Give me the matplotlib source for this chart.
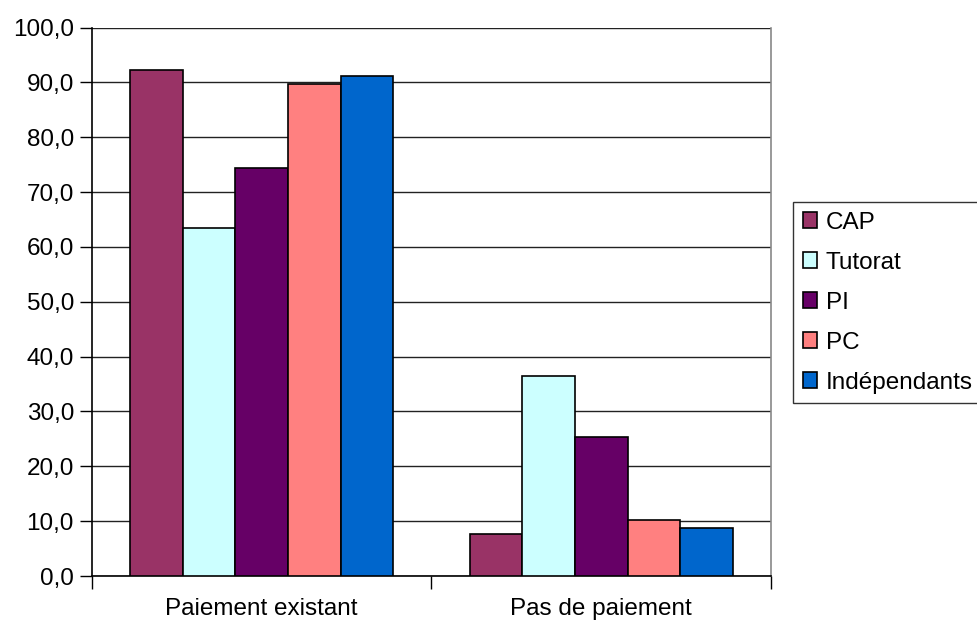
import matplotlib
matplotlib.use("Agg")
import matplotlib.pyplot as plt
import numpy as np

plt.rcParams['font.family'] = ['Liberation Sans', 'DejaVu Sans']

categories = ["Paiement existant", "Pas de paiement"]
series_names = ["CAP", "Tutorat", "PI", "PC", "Indépendants"]
cap = [92.2, 7.7]
tutorat = [63.4, 36.4]
pi = [74.4, 25.4]
pc = [89.7, 10.2]
independants = [91.1, 8.7]
series_values = [cap, tutorat, pi, pc, independants]
colors = ["#993366", "#CCFFFF", "#660066", "#FF8080", "#0066CC"]
y_ticks = list(range(0, 101, 10))

FS = 17.5

fig = plt.figure(figsize=(9.78, 6.24), dpi=100)
ax = fig.add_axes([92 / 978, 1 - 576 / 624, (771 - 92) / 978, (576 - 27.5) / 624])

x = np.arange(len(categories))
width = 0.155
n = len(series_names)
for i, (name, vals, col) in enumerate(zip(series_names, series_values, colors)):
    offs = (i - (n - 1) / 2) * width
    ax.bar(x + offs, vals, width, color=col, edgecolor="black", linewidth=1.2,
           label=name, zorder=3)

ax.set_xlim(-0.5, len(categories) - 0.5)
ax.set_ylim(0, 100)
ax.set_yticks(y_ticks)
ax.set_yticklabels([f"{v:.1f}".replace(".", ",") for v in y_ticks], fontsize=FS)
ax.yaxis.grid(True, color="#222222", linewidth=1.0, zorder=0)
ax.set_axisbelow(True)

# category boundary ticks on x axis, labels centred between them
ax.set_xticks([-0.5, 0.5, 1.5])
ax.set_xticklabels([])
ax.set_xticks(x, minor=True)
ax.set_xticklabels(categories, minor=True, fontsize=FS)
ax.tick_params(axis="x", which="minor", length=0, pad=16)
ax.tick_params(axis="x", which="major", length=9, width=1, direction="out")
ax.tick_params(axis="y", length=9, width=1, direction="out", pad=4)

for s in ["left", "bottom"]:
    ax.spines[s].set_color("black")
    ax.spines[s].set_linewidth(1.2)
ax.spines["top"].set_visible(False)
ax.spines["right"].set_color("#888888")
ax.spines["right"].set_linewidth(1.2)

handles, labels = ax.get_legend_handles_labels()
leg = fig.legend(handles, labels, loc="upper left",
                 bbox_to_anchor=(793 / 978, 1 - 202 / 624),
                 fontsize=FS, frameon=True, fancybox=False,
                 edgecolor="black", handlelength=0.6, handleheight=0.6,
                 handletextpad=0.35, labelspacing=0.74, borderpad=0.4,
                 borderaxespad=0)
leg.get_frame().set_linewidth(1.0)

fig.savefig("out.png", dpi=100)
